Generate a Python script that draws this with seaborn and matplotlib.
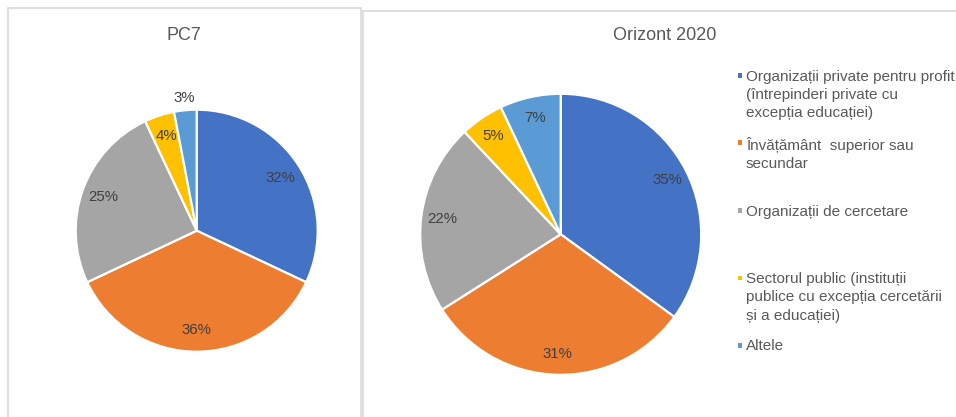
import numpy as np
import matplotlib
matplotlib.use("Agg")
import matplotlib.pyplot as plt
from matplotlib.lines import Line2D
from matplotlib.patches import Rectangle
import seaborn as sns

# data
categories = [
    "Organizații private pentru profit\n(întrepinderi private cu\nexcepția educației)",
    "Învățământ  superior sau\nsecundar",
    "Organizații de cercetare",
    "Sectorul public (instituții\npublice cu excepția cercetării\nși a educației)",
    "Altele",
]
pc7_values = [32, 36, 25, 4, 3]
h2020_values = [35, 31, 22, 5, 7]
titles = ["PC7", "Orizont 2020"]
colors = ["#4472C4", "#ED7D31", "#A5A5A5", "#FFC000", "#5B9BD5"]

sns.set_theme(style="white")
plt.rcParams["font.family"] = ["Liberation Sans", "DejaVu Sans"]

W, H = 956, 417
fig = plt.figure(figsize=(W / 100, H / 100), dpi=100)


def fx(x):
    return x / W


def fy(y):
    return 1 - y / H


def pie_axes(cx, cy, r):
    return fig.add_axes([fx(cx - r), fy(cy + r), 2 * r / W, 2 * r / H])


text_col = "#595959"
pct_col = "#404040"


def draw_pie(ax, values, pctdist):
    wedges, _, autotexts = ax.pie(
        values, colors=colors, startangle=90, counterclock=False,
        wedgeprops=dict(edgecolor="white", linewidth=1.6),
        autopct=lambda p: f"{p:.0f}%", pctdistance=pctdist,
        textprops=dict(color=pct_col, fontsize=10.8))
    # small slices get their label outside
    for v, w, t in zip(values, wedges, autotexts):
        if v <= 3:
            ang = np.deg2rad((w.theta1 + w.theta2) / 2)
            t.set_position((1.1 * np.cos(ang), 1.1 * np.sin(ang)))
    ax.set_xlim(-1, 1)
    ax.set_ylim(-1, 1)
    ax.set_aspect("auto")
    ax.axis("off")


ax1 = pie_axes(196.7, 230.7, 121)
draw_pie(ax1, pc7_values, 0.82)
ax2 = pie_axes(560.7, 234.3, 140.5)
draw_pie(ax2, h2020_values, 0.85)

fig.text(fx(184), fy(35), titles[0], ha="center", va="center", fontsize=13, color=text_col)
fig.text(fx(665), fy(35), titles[1], ha="center", va="center", fontsize=13, color=text_col)

# legend: first line of each entry on an even grid
for i, (lab, col) in enumerate(zip(categories, colors)):
    base = 81.5 + i * 67.5
    fig.text(fx(746), fy(base - 12), lab, ha="left", va="top", fontsize=11,
             color=text_col, linespacing=1.4)
    fig.add_artist(Rectangle((fx(737.5), fy(base - 4)), 4.5 / W, 4.5 / H,
                             transform=fig.transFigure, color=col, lw=0))

# panel borders
bc = "#D9D9D9"
for xs, ys in [([7.5, 7.5], [417, 7.5]), ([7.5, 360.5], [7.5, 7.5]),
               ([360.5, 360.5], [7.5, 417]), ([362.5, 362.5], [10.5, 417]),
               ([362.5, 956], [10.5, 10.5])]:
    fig.add_artist(Line2D([fx(x) for x in xs], [fy(y) for y in ys],
                          transform=fig.transFigure, color=bc, lw=1.2))

fig.savefig("out.png", dpi=100)
